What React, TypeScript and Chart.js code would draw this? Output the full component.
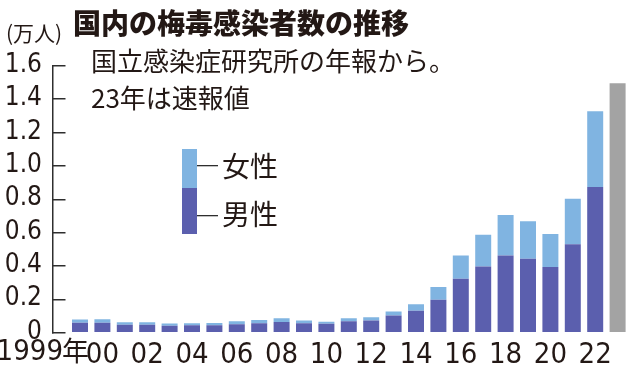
import React, { useEffect, useRef } from "react";
import { Chart, registerables } from "chart.js";

Chart.register(...registerables);

const years = [1999, 2000, 2001, 2002, 2003, 2004, 2005, 2006, 2007, 2008, 2009, 2010, 2011, 2012, 2013, 2014, 2015, 2016, 2017, 2018, 2019, 2020, 2021, 2022];
const male = [0.055, 0.055, 0.043, 0.044, 0.038, 0.040, 0.041, 0.047, 0.053, 0.060, 0.053, 0.050, 0.065, 0.069, 0.099, 0.128, 0.193, 0.319, 0.393, 0.459, 0.439, 0.390, 0.526, 0.869];
const female = [0.020, 0.021, 0.016, 0.014, 0.013, 0.013, 0.013, 0.017, 0.019, 0.023, 0.016, 0.012, 0.018, 0.019, 0.024, 0.038, 0.076, 0.139, 0.190, 0.242, 0.225, 0.197, 0.272, 0.454];
const prelimYear = 2023;
const prelimTotal = 1.491;
const xTickYears = [2000, 2002, 2004, 2006, 2008, 2010, 2012, 2014, 2016, 2018, 2020, 2022];
const yTicks = [0, 0.2, 0.4, 0.6, 0.8, 1.0, 1.2, 1.4, 1.6];
const xMin = 1997.75;
const xMax = 2023.5;

const TEXT = "#231815";
const LIGHT = "#80b4e1";
const DARK = "#5b5fae";
const GRAY = "#a3a3a3";
const AXIS = "#2e2e2e";
const NARROW = "'Liberation Sans Narrow', 'DejaVu Sans Condensed', sans-serif";
const JP = "'Noto Sans CJK JP', sans-serif";

const decor = {
  id: "decor",
  afterDraw(chart: any) {
    const ctx = chart.ctx;
    const ys = chart.scales.y;
    const xs = chart.scales.x;
    ctx.save();
    ctx.setTransform(1, 0, 0, 1, 0, 0);
    ctx.globalAlpha = 1;
    ctx.globalCompositeOperation = "source-over";
    // y axis line and inward ticks
    ctx.fillStyle = AXIS;
    const ax = 52;
    const top = Math.round(ys.getPixelForValue(1.6));
    const bot = Math.round(ys.getPixelForValue(0));
    ctx.fillRect(ax, top, 1.5, bot - top + 1.5);
    yTicks.forEach((v) => {
      const py = Math.round(ys.getPixelForValue(v));
      ctx.fillRect(ax, py, 13.5, 1.5);
    });
    // first x label
    ctx.fillStyle = TEXT;
    ctx.textBaseline = "middle";
    ctx.textAlign = "right";
    const px = xs.getPixelForValue(1999);
    ctx.font = `27px ${JP}`;
    const wy = ctx.measureText("年").width;
    ctx.fillText("年", px + 9, 351);
    ctx.font = `29px ${NARROW}`;
    ctx.fillText("1999", px + 9 - wy + 1, 352);
    // title
    ctx.textAlign = "left";
    ctx.font = `900 28px ${JP}`;
    ctx.fillText("国内の梅毒感染者数の推移", 73, 23);
    ctx.font = `21px ${JP}`;
    ctx.fillText("(万人)", 6, 33);
    ctx.font = `26px ${JP}`;
    ctx.fillText("国立感染症研究所の年報から。", 91, 61);
    ctx.fillText("23年は速報値", 91, 98);
    // legend
    ctx.fillStyle = LIGHT;
    ctx.fillRect(182, 149, 15, 39);
    ctx.fillStyle = DARK;
    ctx.fillRect(182, 188, 15, 46);
    ctx.fillStyle = AXIS;
    ctx.fillRect(197, 165, 21, 1.3);
    ctx.fillRect(197, 215, 21, 1.3);
    ctx.fillStyle = TEXT;
    ctx.font = `28px ${JP}`;
    ctx.fillText("女性", 222, 166);
    ctx.fillText("男性", 222, 214);
    ctx.restore();
  },
};

export default function App() {
  const ref = useRef<HTMLCanvasElement>(null);
  useEffect(() => {
    if (!ref.current) return;
    const chart = new Chart(ref.current, {
      type: "bar",
      data: {
        datasets: [
          {
            label: "男性",
            data: years.map((y, i) => ({ x: y, y: male[i] })),
            backgroundColor: DARK,
            barPercentage: 0.714,
            categoryPercentage: 1,
          },
          {
            label: "女性",
            data: years.map((y, i) => ({ x: y, y: female[i] })),
            backgroundColor: LIGHT,
            barPercentage: 0.714,
            categoryPercentage: 1,
          },
          {
            label: "速報値",
            data: [{ x: prelimYear, y: prelimTotal }],
            backgroundColor: GRAY,
            barPercentage: 0.714,
            categoryPercentage: 1,
          },
        ],
      },
      plugins: [decor],
      options: {
        responsive: false,
        animation: false,
        layout: { padding: { top: 65, right: 11.2, left: 0, bottom: 0 } },
        plugins: { legend: { display: false }, tooltip: { enabled: false }, title: { display: false } },
        scales: {
          x: {
            type: "linear",
            stacked: true,
            offset: false,
            min: xMin,
            max: xMax,
            grid: { display: false, drawTicks: false, offset: false },
            border: { display: false },
            afterBuildTicks: (s: any) => {
              s.ticks = xTickYears.map((v) => ({ value: v }));
            },
            afterFit: (s: any) => {
              s.height = 37;
              s.paddingLeft = 0;
              s.paddingRight = 0;
            },
            ticks: {
              autoSkip: false,
              maxRotation: 0,
              padding: 6,
              color: TEXT,
              font: { family: NARROW, size: 29 },
              callback: (v: any) => String(v).slice(2),
            },
          },
          y: {
            stacked: true,
            min: 0,
            max: 1.6,
            grid: { display: false, drawTicks: false },
            border: { display: false },
            afterBuildTicks: (s: any) => {
              s.ticks = yTicks.map((v) => ({ value: v }));
            },
            afterFit: (s: any) => {
              s.width = 52;
              s.paddingTop = 0;
              s.paddingBottom = 0;
            },
            ticks: {
              autoSkip: false,
              padding: 10,
              color: TEXT,
              font: { family: NARROW, size: 26 },
              callback: (v: any) => (v === 0 ? "0" : Number(v).toFixed(1)),
            },
          },
        },
      },
    });
    return () => chart.destroy();
  }, []);
  return (
    <div style={{ position: "absolute", left: 0, top: 0, width: 640, height: 369, background: "#fff" }}>
      <canvas ref={ref} width={640} height={369} style={{ display: "block" }} />
    </div>
  );
}
